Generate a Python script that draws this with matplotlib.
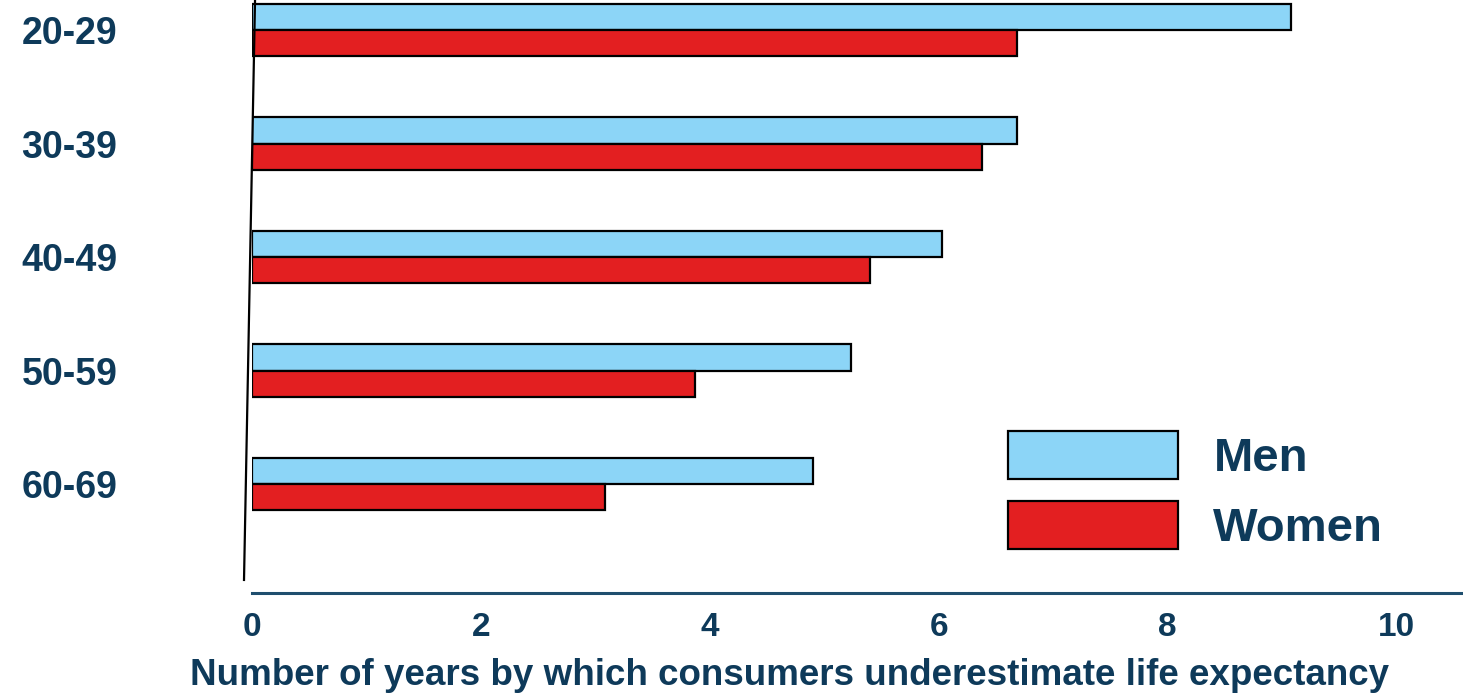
import numpy as np
import matplotlib.pyplot as plt
from matplotlib.patches import Patch

plt.rcParams['font.family'] = ['Liberation Sans', 'DejaVu Sans']

# data
age_groups = ['20-29', '30-39', '40-49', '50-59', '60-69']
men = [9.08, 6.68, 6.03, 5.23, 4.90]
women = [6.68, 6.38, 5.40, 3.87, 3.08]
x_ticks = [0, 2, 4, 6, 8, 10]

navy = '#0E3A5A'
light_blue = '#8CD5F7'
red = '#E31F21'

fig = plt.figure(figsize=(14.63, 6.97), dpi=100)
ax = fig.add_axes([252 / 1463, 1 - 593 / 697, 1 - 252 / 1463, 593 / 697])

y = np.arange(len(age_groups))
h = 0.23
ax.barh(y - h / 2, men, height=h, color=light_blue, edgecolor='black', linewidth=1.6, label='Men')
ax.barh(y + h / 2, women, height=h, color=red, edgecolor='black', linewidth=1.6, label='Women')

ax.set_xlim(0, 10.58)
ax.set_ylim(4.96, -0.265)

ax.set_xticks(x_ticks)
ax.set_xticklabels([str(t) for t in x_ticks], fontsize=24, fontweight='bold', color=navy)
ax.tick_params(axis='x', length=0, pad=14)

ax.set_yticks(y)
ax.set_yticklabels(age_groups, fontsize=27, fontweight='bold', color=navy, ha='left')
ax.tick_params(axis='y', length=0, pad=166)

ax.set_xlabel('Number of years by which consumers underestimate life expectancy',
              fontsize=26.5, fontweight='bold', color=navy)
ax.xaxis.set_label_coords((790 - 252) / 1211, -0.11)

for s in ['top', 'right', 'left']:
    ax.spines[s].set_visible(False)
ax.spines['bottom'].set_color('#1F4E6E')
ax.spines['bottom'].set_linewidth(2.2)

# hand-drawn looking vertical axis line (slightly slanted)
ax.plot([0.0025, -0.0066], [1.0, 0.022], transform=ax.transAxes, color='black',
        linewidth=1.6, clip_on=False)

handles = [Patch(facecolor=light_blue, edgecolor='black', linewidth=1.6, label='Men'),
           Patch(facecolor=red, edgecolor='black', linewidth=1.6, label='Women')]
fig.legend(handles=handles, loc='upper left', bbox_to_anchor=(1008 / 1463, 1 - 431 / 697),
           frameon=False, prop={'size': 34, 'weight': 'bold'}, labelcolor=navy,
           handlelength=3.6, handleheight=1.2, handletextpad=0.75, labelspacing=0.42,
           borderpad=0, borderaxespad=0)

fig.savefig('out.png', dpi=100)
